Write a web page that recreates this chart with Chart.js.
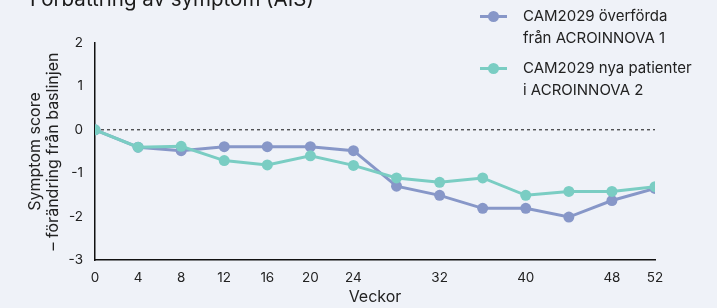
<!DOCTYPE html>
<html>
<head>
<meta charset="utf-8">
<script src="https://cdn.jsdelivr.net/npm/chart.js@4"></script>
<style>
  html, body { margin: 0; padding: 0; background: #EFF2F8; }
  #wrap { position: relative; width: 717px; height: 308px; overflow: hidden; }
  #title { position: absolute; left: 30px; top: -14px; font: 20.5px Inter, sans-serif; color: #1a1a1a; white-space: nowrap; }
  #legend { position: absolute; left: 480px; top: 5px; font: 15px Inter, sans-serif; color: #222; }
  .item { position: relative; padding-left: 43px; line-height: 21.5px; margin-bottom: 9px; }
  .mark { position: absolute; left: 0; top: 10px; width: 27px; height: 3px; }
  .dot { position: absolute; left: 8px; top: -4px; width: 11px; height: 11px; border-radius: 50%; }
</style>
</head>
<body>
<div id="wrap">
  <canvas id="chart" width="717" height="308"></canvas>
  <div id="title">Förbättring av symptom (AIS)</div>
  <div id="legend"></div>
</div>
<script>
const weeks = [0, 4, 8, 12, 16, 20, 24, 28, 32, 36, 40, 44, 48, 52];
const overforda = [0, -0.4, -0.48, -0.39, -0.39, -0.39, -0.48, -1.3, -1.51, -1.81, -1.81, -2.01, -1.63, -1.35];
const nyaPatienter = [0, -0.4, -0.38, -0.71, -0.81, -0.6, -0.82, -1.11, -1.21, -1.11, -1.51, -1.42, -1.42, -1.31];
const seriesNames = [["CAM2029 överförda", "från ACROINNOVA 1"], ["CAM2029 nya patienter", "i ACROINNOVA 2"]];
const hiddenXTicks = [28, 36, 44];
const colors = ['#8797C8', '#7ACDC3'];

// legend in html so the labels can wrap to two lines
let legend = document.getElementById("legend");
seriesNames.forEach((lines, i) => {
    let div = document.createElement("div");
    div.setAttribute("class", "item");
    div.innerHTML = '<span class="mark" style="background:' + colors[i] + '"><span class="dot" style="background:' + colors[i] + '"></span></span>' + lines.join("<br>");
    legend.appendChild(div);
});

const zeroLine = {
    id: "zeroLine",
    beforeDatasetsDraw(chart) {
        let ctx = chart.ctx;
        let y = chart.scales.y.getPixelForValue(0);
        ctx.save();
        ctx.strokeStyle = "#111";
        ctx.lineWidth = 1;
        ctx.setLineDash([3, 3]);
        ctx.beginPath();
        ctx.moveTo(chart.chartArea.left, y);
        ctx.lineTo(chart.chartArea.right, y);
        ctx.stroke();
        ctx.restore();
    }
};

function points(values) {
    return values.map((v, i) => ({ x: weeks[i], y: v }));
}

const noGrid = { display: false, drawTicks: true, tickLength: 0 };

let ctx = document.getElementById("chart").getContext("2d");
new Chart(ctx, {
    type: "line",
    data: {
        datasets: [
            {
                label: seriesNames[0].join(" "),
                data: points(overforda),
                borderColor: colors[0],
                backgroundColor: colors[0],
                borderWidth: 3,
                pointRadius: 5.5,
                pointBorderWidth: 0,
                order: 2
            },
            {
                label: seriesNames[1].join(" "),
                data: points(nyaPatienter),
                borderColor: colors[1],
                backgroundColor: colors[1],
                borderWidth: 3,
                pointRadius: 5.5,
                pointBorderWidth: 0,
                order: 1
            }
        ]
    },
    plugins: [zeroLine],
    options: {
        responsive: false,
        animation: false,
        layout: { padding: { left: 10, right: 62, top: 43, bottom: 2 } },
        plugins: {
            legend: { display: false },
            tooltip: { enabled: false }
        },
        scales: {
            x: {
                type: "linear",
                min: 0,
                max: 52,
                grid: noGrid,
                border: { display: true, color: "#111", width: 1.5 },
                afterFit: (scale) => { scale.height = 46; },
                ticks: {
                    stepSize: 4,
                    padding: 10,
                    color: "#222",
                    font: { family: "Inter", size: 13.5 },
                    callback: (v) => hiddenXTicks.includes(v) ? "" : v
                },
                title: {
                    display: true,
                    text: "Veckor",
                    color: "#222",
                    font: { family: "Inter", size: 16, lineHeight: 1.15 },
                    padding: 0
                }
            },
            y: {
                min: -3,
                max: 2,
                grid: noGrid,
                border: { display: true, color: "#111", width: 1.5 },
                afterFit: (scale) => { scale.width = 85; },
                ticks: {
                    stepSize: 1,
                    padding: 12,
                    color: "#222",
                    font: { family: "Inter", size: 13.5 }
                },
                title: {
                    display: true,
                    text: ["Symptom score", "– förändring från baslinjen"],
                    color: "#222",
                    font: { family: "Inter", size: 16, lineHeight: 1.15 },
                    padding: { top: 16, bottom: 0 }
                }
            }
        }
    }
});
</script>
</body>
</html>
